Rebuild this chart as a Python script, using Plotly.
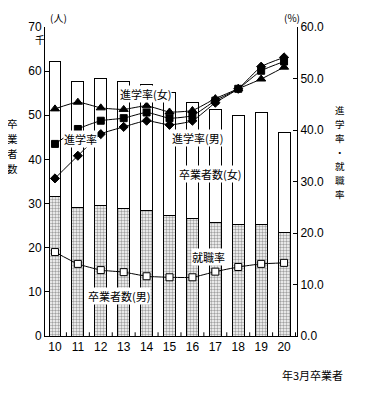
import plotly.graph_objects as go

years = [10, 11, 12, 13, 14, 15, 16, 17, 18, 19, 20]
year_labels = [str(y) for y in years]
grads_male = [31.5, 29.1, 29.6, 28.8, 28.4, 27.3, 26.6, 25.7, 25.3, 25.3, 23.4]
grads_female = [30.7, 28.6, 28.8, 28.9, 28.5, 27.8, 26.4, 25.5, 24.7, 25.3, 22.7]
rate_univ_total = [37.3, 40.2, 41.8, 42.3, 43.4, 42.3, 42.8, 45.7, 48.0, 51.5, 53.3]
rate_univ_male = [30.6, 35.0, 39.2, 40.6, 41.8, 41.0, 41.8, 45.3, 48.0, 52.3, 54.1]
rate_univ_female = [44.1, 45.4, 44.3, 44.0, 44.7, 43.5, 43.8, 46.1, 48.0, 49.9, 52.2]
rate_employ = [16.3, 14.0, 12.8, 12.4, 11.6, 11.4, 11.4, 12.5, 13.4, 14.0, 14.2]

FONT = "Noto Sans CJK JP"
OFF = 8  # page body margin
fig = go.Figure()

fig.add_trace(go.Bar(
    x=years, y=grads_male, width=0.52, yaxis="y",
    marker=dict(color="white", line=dict(color="black", width=1),
                pattern=dict(shape=".", fgcolor="#444444", bgcolor="white", size=3, solidity=0.5)),
    showlegend=False))
fig.add_trace(go.Bar(
    x=years, y=grads_female, width=0.52, yaxis="y",
    marker=dict(color="white", line=dict(color="black", width=1)),
    showlegend=False))

def line(vals, sym, size, color="black"):
    fig.add_trace(go.Scatter(
        x=years, y=vals, yaxis="y2", mode="lines+markers",
        line=dict(color="black", width=1, shape="spline", smoothing=0.5),
        marker=dict(symbol=sym, size=size, color=color, line=dict(color="black", width=1)),
        showlegend=False))

line(rate_employ, "square", 7, "white")
line(rate_univ_total, "square", 7)
line(rate_univ_male, "diamond", 7)
line(rate_univ_female, "triangle-up", 8)

L, R, T, B = 45, 297, 25, 336
W, H = 382 - OFF, 402 - OFF
fig.update_layout(
    width=W, height=H, autosize=False,
    margin=dict(l=L - OFF, r=W - (R - OFF), t=T - OFF, b=H - (B - OFF)),
    plot_bgcolor="white", paper_bgcolor="white",
    barmode="stack", bargap=0.48,
    font=dict(family=FONT, size=11, color="black"),
    xaxis=dict(range=[9.565, 20.565], tickmode="array", tickvals=years, ticktext=year_labels,
               showline=True, linecolor="black", linewidth=1, mirror=False,
               ticks="", showgrid=False, zeroline=False, tickfont=dict(size=12, family="Liberation Sans")),
    yaxis=dict(range=[0, 70], dtick=10, showline=True, linecolor="black", linewidth=1,
               ticks="inside", ticklen=4, tickcolor="black", showgrid=False, zeroline=False,
               tickfont=dict(size=12, family="Liberation Sans")),
    yaxis2=dict(range=[0, 60], dtick=10, tickformat=".1f", overlaying="y", side="right",
                showline=True, linecolor="black", linewidth=1, ticks="inside", ticklen=4,
                tickcolor="black", showgrid=False, zeroline=False,
                tickfont=dict(size=12, family="Liberation Sans")),
)

for i in range(len(years) + 1):
    xb = years[0] - 0.5 + i
    fig.add_shape(type="line", xref="x", yref="paper", x0=xb, x1=xb, y0=0, y1=0.012,
                  line=dict(color="black", width=1))

def pp(xp, yp, text, bg=None, size=11):
    fig.add_annotation(text=text, x=(xp - L) / (R - L), y=(B - yp) / (B - T),
                       xref="paper", yref="paper", showarrow=False,
                       bgcolor=bg, font=dict(size=size, family=FONT, color="black"),
                       xanchor="center", yanchor="middle", borderpad=0)

def vertical(xp, y0, step, chars, size):
    for i, ch in enumerate(chars):
        pp(xp, y0 + i * step, ch, size=size)

pp(58, 15, "(人)", size=10)
pp(292, 15, "(%)", size=10)
pp(40, 38, "千", size=10)
vertical(12, 122, 15, "卒業者数", 10.5)
vertical(340, 109, 14, "進学率・就職率", 9.5)
pp(312, 375, "年3月卒業者")
pp(145, 92, "進学率(女)", bg="white")
pp(80, 138, "進学率", bg="white")
pp(197, 137, "進学率(男)", bg="white")
pp(210, 173, "卒業者数(女)", bg="white")
pp(208, 256, "就職率", bg="white")
pp(119, 296, "卒業者数(男)", bg="white")

fig.write_html("out.html")
